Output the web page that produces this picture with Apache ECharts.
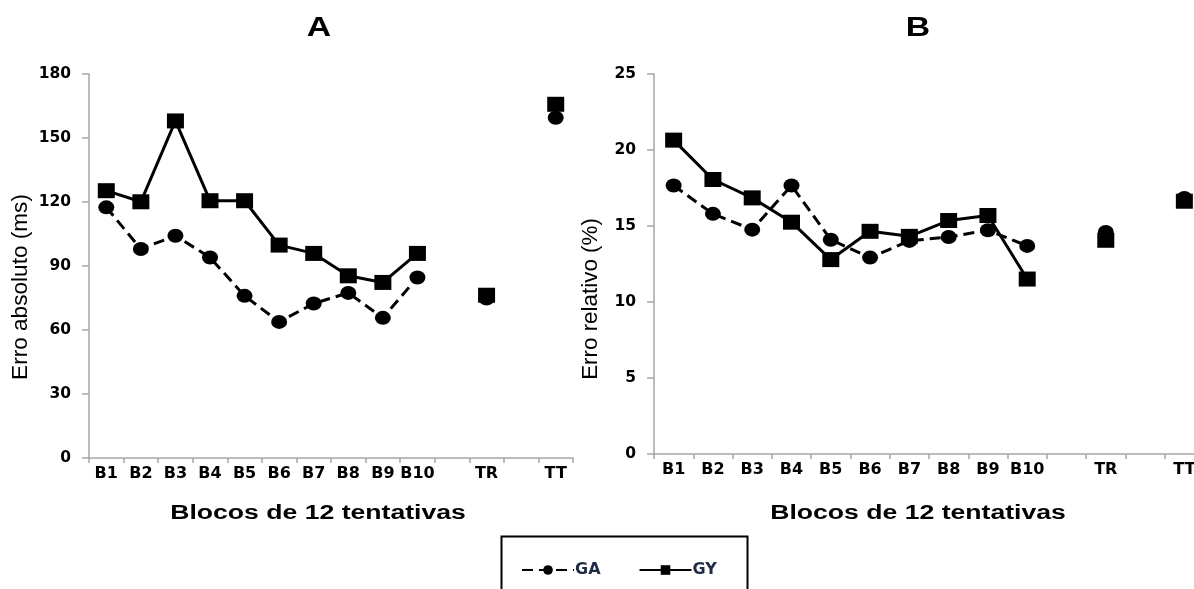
<!DOCTYPE html>
<html>
<head>
<meta charset="utf-8">
<script src="https://cdn.jsdelivr.net/npm/echarts@6/dist/echarts.min.js"></script>
<style>
html,body{margin:0;padding:0;background:#fff;}
#chart{width:1194px;height:589px;}
</style>
</head>
<body>
<div id="chart"></div>
<script>
// ---- data ----
var categories = ['B1','B2','B3','B4','B5','B6','B7','B8','B9','B10','','TR','','TT'];
var absGA = [117.5, 98, 104.2, 94, 76, 63.8, 72.4, 77.4, 65.7, 84.6, null, 74.8, null, 159.5];
var absGY = [125.3, 120.1, 158, 120.6, 120.6, 99.8, 95.9, 85.4, 82.3, 95.9, null, 76.3, null, 165.8];
var relGA = [17.66, 15.8, 14.76, 17.66, 14.1, 12.92, 14.02, 14.28, 14.72, 13.69, null, 14.61, null, 16.85];
var relGY = [20.65, 18.06, 16.85, 15.25, 12.79, 14.65, 14.32, 15.36, 15.69, 11.51, null, 14.06, null, 16.63];
var absTicks = {min: 0, max: 180, interval: 30};
var relTicks = {min: 0, max: 25, interval: 5};

var FONT = '"Liberation Sans", Arial, sans-serif';
var WIDE = '"DejaVu Sans", "Liberation Sans", sans-serif';
var axisGray = '#a6a6a6';

function xAxis(gridIndex) {
  return {
    type: 'category', gridIndex: gridIndex, data: categories, boundaryGap: true,
    axisLine: {lineStyle: {color: axisGray, width: 1.5}},
    axisTick: {show: true, interval: 0, length: 5, lineStyle: {color: axisGray, width: 1.5}},
    axisLabel: {interval: 0, margin: 8, color: '#000', fontWeight: 'bold', fontSize: 16, fontFamily: WIDE},
    splitLine: {show: false}
  };
}
function yAxis(gridIndex, t) {
  return {
    type: 'value', gridIndex: gridIndex, min: t.min, max: t.max, interval: t.interval,
    axisLine: {show: true, lineStyle: {color: axisGray, width: 1.5}},
    axisTick: {show: true, length: 7, lineStyle: {color: axisGray, width: 1.5}},
    axisLabel: {margin: 18, color: '#000', fontWeight: 'bold', fontSize: 15.5, fontFamily: WIDE},
    splitLine: {show: false}
  };
}
function gaSeries(idx, data) {
  return {
    name: 'GA', type: 'line', xAxisIndex: idx, yAxisIndex: idx, data: data,
    symbol: 'circle', symbolSize: [16, 14], connectNulls: false, showAllSymbol: true,
    lineStyle: {color: '#000', width: 3, type: [11, 6]},
    itemStyle: {color: '#000'}, z: 2
  };
}
function gySeries(idx, data) {
  return {
    name: 'GY', type: 'line', xAxisIndex: idx, yAxisIndex: idx, data: data,
    symbol: 'rect', symbolSize: [17, 15], connectNulls: false, showAllSymbol: true,
    lineStyle: {color: '#000', width: 3, type: 'solid'},
    itemStyle: {color: '#000'}, z: 3
  };
}
function wideText(x, y, text, font, sx) {
  return {type: 'text', x: x, y: y, scaleX: sx, silent: true,
    style: {text: text, font: font, fill: '#000', align: 'center', verticalAlign: 'middle'}};
}

var chart = echarts.init(document.getElementById('chart'), null, {renderer: 'canvas'});
chart.setOption({
  animation: false,
  backgroundColor: '#fff',
  grid: [
    {left: 89, top: 74, width: 484, height: 384, outerBoundsMode: 'none', containLabel: false},
    {left: 654, top: 74, width: 550, height: 380, outerBoundsMode: 'none', containLabel: false}
  ],
  xAxis: [xAxis(0), xAxis(1)],
  yAxis: [yAxis(0, absTicks), yAxis(1, relTicks)],
  legend: {
    data: ['GA', 'GY'], left: 516, top: 557, itemWidth: 52, itemHeight: 12, itemGap: 38,
    textStyle: {fontWeight: 'bold', fontSize: 16, color: '#1f2a44', fontFamily: WIDE, padding: [0,0,0,-4]}
  },
  graphic: [
    {type: 'rect', left: 499, top: 534, shape: {width: 246, height: 70}, style: {fill: 'none', stroke: '#000', lineWidth: 2}, silent: true},
    wideText(319, 29, 'A', 'bold 27px ' + FONT, 1.25),
    wideText(918, 29, 'B', 'bold 27px ' + FONT, 1.25),
    {type: 'text', x: 21, y: 287, rotation: Math.PI / 2, silent: true, style: {text: 'Erro absoluto (ms)', font: '22.6px ' + FONT, fill: '#000', align: 'center', verticalAlign: 'middle'}},
    {type: 'text', x: 591, y: 299, rotation: Math.PI / 2, silent: true, style: {text: 'Erro relativo (%)', font: '22.4px ' + FONT, fill: '#000', align: 'center', verticalAlign: 'middle'}},
    wideText(318, 513, 'Blocos de 12 tentativas', 'bold 20px ' + FONT, 1.33),
    wideText(918, 513, 'Blocos de 12 tentativas', 'bold 20px ' + FONT, 1.33)
  ],
  series: [gaSeries(0, absGA), gySeries(0, absGY), gaSeries(1, relGA), gySeries(1, relGY)]
});
</script>
</body>
</html>
